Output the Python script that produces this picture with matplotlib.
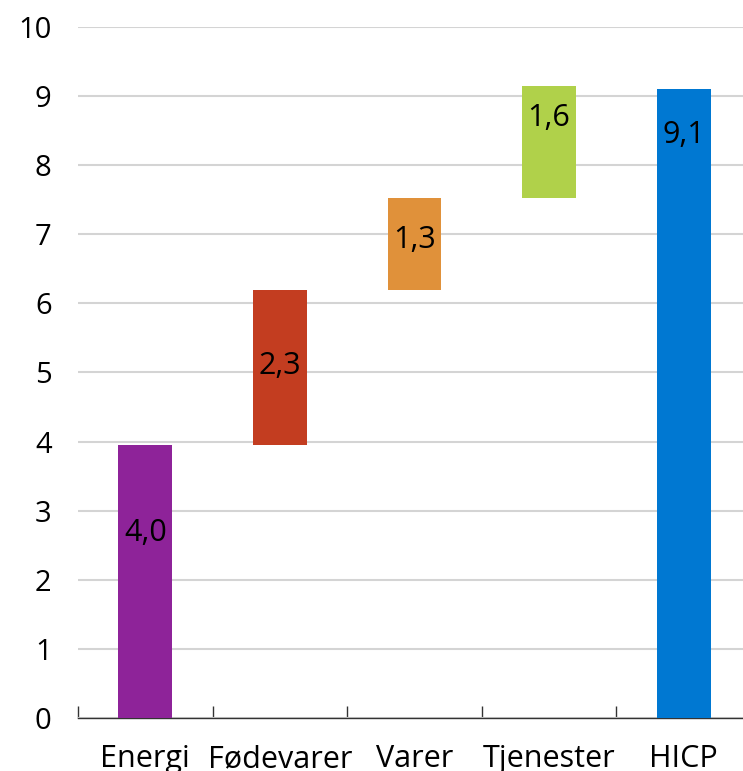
import matplotlib.pyplot as plt
import numpy as np

categories = ['Energi', 'Fødevarer', 'Varer', 'Tjenester', 'HICP']
bottoms = [0.0, 3.95, 6.2, 7.53, 0.0]
heights = [3.95, 2.25, 1.33, 1.62, 9.1]
labels = ['4,0', '2,3', '1,3', '1,6', '9,1']
label_y = [2.68, 5.1, 6.92, 8.68, 8.44]
colors = ['#8E2399', '#C33D20', '#E0913A', '#B0D14A', '#0078D2']

plt.rcParams['font.family'] = ['Open Sans', 'DejaVu Sans']

fig = plt.figure(figsize=(7.43, 7.71), dpi=100)
ax = fig.add_axes([78 / 743, 53 / 771, 673 / 743, 691 / 771])

x = np.arange(len(categories))
ax.bar(x, heights, bottom=bottoms, width=0.4, color=colors, zorder=3)
for xi, ly, lab in zip(x, label_y, labels):
    ax.text(xi, ly, lab, ha='center', va='center', fontsize=22, color='black', zorder=4)

ax.set_xlim(-0.5, 4.5)
ax.set_ylim(0, 10)
ax.set_yticks(range(0, 11))
ax.yaxis.grid(True, color='#d4d4d4', linewidth=1.5, zorder=0)
ax.tick_params(axis='y', length=0, pad=19, labelsize=21)

ax.set_xticks(x)
ax.set_xticklabels(categories)
ax.set_xticks(np.arange(-0.5, 4.5, 1), minor=True)
ax.tick_params(axis='x', which='major', length=0, pad=19, labelsize=22)
ax.tick_params(axis='x', which='minor', direction='in', length=9, width=1, color='#333333')

for s in ['left', 'right', 'top']:
    ax.spines[s].set_visible(False)
ax.spines['bottom'].set_color('#333333')
ax.spines['bottom'].set_linewidth(1)

fig.savefig('out.png', dpi=100)
